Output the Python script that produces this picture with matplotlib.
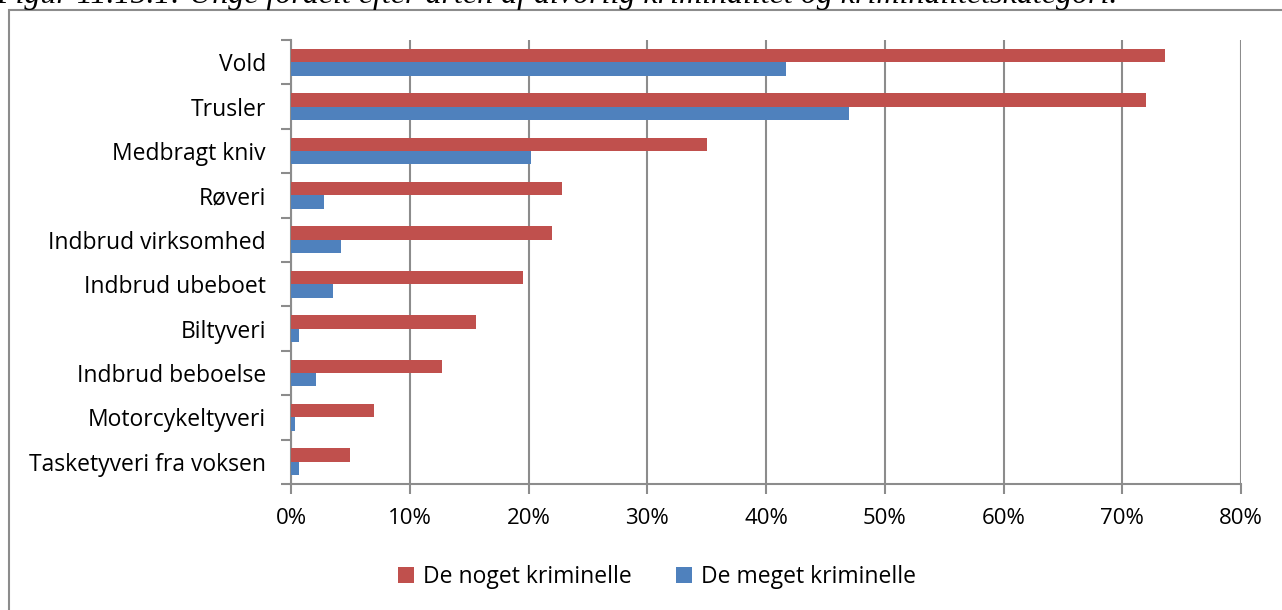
import numpy as np
import matplotlib.pyplot as plt
from matplotlib.patches import Rectangle

categories = ["Vold", "Trusler", "Medbragt kniv", "Røveri", "Indbrud virksomhed",
              "Indbrud ubeboet", "Biltyveri", "Indbrud beboelse", "Motorcykeltyveri",
              "Tasketyveri fra voksen"]
noget = [73.6, 72.0, 35.0, 22.8, 22.0, 19.5, 15.6, 12.7, 7.0, 5.0]
meget = [41.7, 47.0, 20.2, 2.8, 4.2, 3.5, 0.7, 2.1, 0.3, 0.7]
xticks = [0, 10, 20, 30, 40, 50, 60, 70, 80]

red = "#C0504D"
blue = "#4F81BD"
grid_col = "#8c8c8c"

plt.rcParams['font.family'] = ['Open Sans', 'DejaVu Sans']

fig = plt.figure(figsize=(12.82, 6.10), dpi=100)
ax = fig.add_axes([291 / 1282, 1 - 484 / 610, 950 / 1282, 444 / 610])

y = np.arange(len(categories))
h = 0.3
ax.barh(y - h / 2, noget, height=h, color=red, label="De noget kriminelle", zorder=3)
ax.barh(y + h / 2, meget, height=h, color=blue, label="De meget kriminelle", zorder=3)

ax.set_ylim(len(categories) - 0.5, -0.5)
ax.set_xlim(0, 80)
ax.set_xticks(xticks)
ax.set_xticklabels([f"{v}%" for v in xticks], fontsize=16)
ax.set_yticks(y)
ax.set_yticklabels(categories, fontsize=16.5)
ax.tick_params(axis='y', length=0, pad=18)
ax.set_yticks(np.arange(len(categories) + 1) - 0.5, minor=True)
ax.tick_params(axis='y', which='minor', length=7, width=1.5, color=grid_col)
ax.tick_params(axis='x', length=7, width=1.5, color=grid_col, pad=10)
ax.grid(axis='x', color=grid_col, linewidth=1.5, zorder=0)
for s in ['top', 'right']:
    ax.spines[s].set_visible(False)
for s in ['left', 'bottom']:
    ax.spines[s].set_color(grid_col)
    ax.spines[s].set_linewidth(1.5)

fig.legend(loc='center', bbox_to_anchor=(657 / 1282, 1 - 577 / 610), ncol=2,
           frameon=False, fontsize=16.5, handlelength=0.7, handleheight=0.7,
           columnspacing=1.9, handletextpad=0.4)

# chart border
fig.patches.append(Rectangle((9 / 1282, -0.05), 1.2, 1 - 10 / 610 + 0.05,
                             transform=fig.transFigure, fill=False,
                             edgecolor=grid_col, linewidth=1.5))

# caption, cut off at the top
fig.text(-0.003, 1 - 3 / 610, "Figur 11.15.1: Unge fordelt efter arten af alvorlig kriminalitet og kriminalitetskategori.",
         family='Liberation Serif', style='italic', fontsize=23, va='baseline', ha='left')

fig.savefig("out.png", dpi=100)
